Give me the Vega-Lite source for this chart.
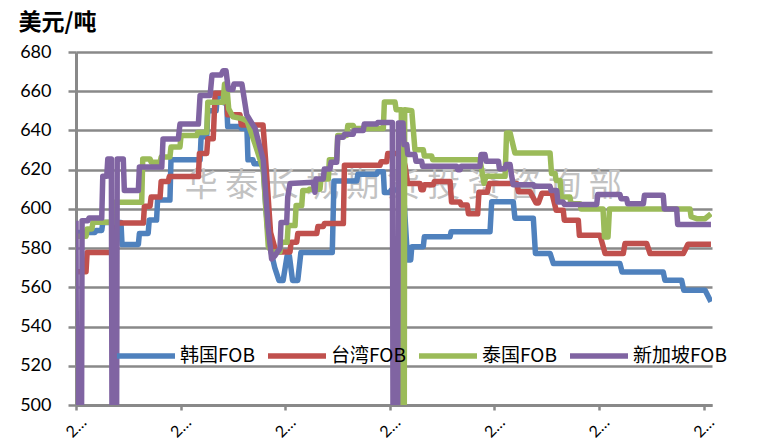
{
"$schema": "https://vega.github.io/schema/vega-lite/v6.json",
"width": 636, "height": 353,
"autosize": {"type": "none"},
"padding": {"left": 76, "top": 52, "right": 51, "bottom": 39},
"background": "white",
"config": {"view": {"stroke": null}, "font": "Lato"},
"layer": [
{
"data": {"values": [{}]},
"mark": {"type": "text", "align": "left", "baseline": "middle", "font": "Noto Sans CJK SC", "fontSize": 33, "color": "#c2c2c2", "text": "华 泰 长 城 期 货 投 资 咨 询 部"},
"encoding": {"x": {"datum": 52.0, "type": "quantitative"}, "y": {"datum": 611.7, "type": "quantitative"}}
},
{
"data": {"values": [
{"s":"韩国FOB","x":0,"y":588},{"s":"韩国FOB","x":9.1,"y":588},{"s":"韩国FOB","x":9.6,"y":589},{"s":"韩国FOB","x":12.3,"y":589},{"s":"韩国FOB","x":12.8,"y":593},{"s":"韩国FOB","x":21.5,"y":593},{"s":"韩国FOB","x":22,"y":581.8},{"s":"韩国FOB","x":29.8,"y":581.8},{"s":"韩国FOB","x":30.3,"y":587.5},{"s":"韩国FOB","x":34.5,"y":587.5},{"s":"韩国FOB","x":35,"y":594.3},{"s":"韩国FOB","x":38.5,"y":594.3},{"s":"韩国FOB","x":39,"y":604.5},{"s":"韩国FOB","x":44.9,"y":604.5},{"s":"韩国FOB","x":45.4,"y":625},{"s":"韩国FOB","x":59.3,"y":625},{"s":"韩国FOB","x":59.8,"y":636.8},{"s":"韩国FOB","x":62.5,"y":636.8},{"s":"韩国FOB","x":63,"y":650},{"s":"韩国FOB","x":67,"y":650},{"s":"韩国FOB","x":67.5,"y":657.2},{"s":"韩国FOB","x":70.4,"y":657.2},{"s":"韩国FOB","x":70.9,"y":654},{"s":"韩国FOB","x":72,"y":654},{"s":"韩国FOB","x":72.5,"y":642},{"s":"韩国FOB","x":78.4,"y":642},{"s":"韩国FOB","x":79,"y":641},{"s":"韩国FOB","x":81.7,"y":641},{"s":"韩国FOB","x":82.2,"y":625},{"s":"韩国FOB","x":84.6,"y":625},{"s":"韩国FOB","x":85.1,"y":623},{"s":"韩国FOB","x":89.4,"y":623},{"s":"韩国FOB","x":90.8,"y":600},{"s":"韩国FOB","x":92,"y":585},{"s":"韩国FOB","x":93.5,"y":577},{"s":"韩国FOB","x":95,"y":570},{"s":"韩国FOB","x":97,"y":563.5},{"s":"韩国FOB","x":99,"y":563.5},{"s":"韩国FOB","x":100.9,"y":576},{"s":"韩国FOB","x":102,"y":576},{"s":"韩国FOB","x":103.5,"y":563.5},{"s":"韩国FOB","x":106,"y":563.5},{"s":"韩国FOB","x":107.5,"y":577.8},{"s":"韩国FOB","x":122.5,"y":577.8},{"s":"韩国FOB","x":123.3,"y":614.2},{"s":"韩国FOB","x":134.2,"y":614.2},{"s":"韩国FOB","x":134.7,"y":617.6},{"s":"韩国FOB","x":143.7,"y":617.6},{"s":"韩国FOB","x":144.2,"y":619},{"s":"韩国FOB","x":146.9,"y":619},{"s":"韩国FOB","x":147.4,"y":608.4},{"s":"韩国FOB","x":150.1,"y":608.4},{"s":"韩国FOB","x":150.6,"y":609.6},{"s":"韩国FOB","x":156.5,"y":609.6},{"s":"韩国FOB","x":158.5,"y":574},{"s":"韩国FOB","x":160,"y":574},{"s":"韩国FOB","x":160.5,"y":580.7},{"s":"韩国FOB","x":166,"y":580.7},{"s":"韩国FOB","x":166.5,"y":585.8},{"s":"韩国FOB","x":178.8,"y":585.8},{"s":"韩国FOB","x":179.3,"y":588.4},{"s":"韩国FOB","x":197.9,"y":588.4},{"s":"韩国FOB","x":198.7,"y":603.7},{"s":"韩国FOB","x":209,"y":603.7},{"s":"韩国FOB","x":209.8,"y":595.2},{"s":"韩国FOB","x":218.6,"y":595.2},{"s":"韩国FOB","x":219.6,"y":577.3},{"s":"韩国FOB","x":226.6,"y":577.3},{"s":"韩国FOB","x":228.2,"y":572.1},{"s":"韩国FOB","x":260,"y":572.1},{"s":"韩国FOB","x":261,"y":567.8},{"s":"韩国FOB","x":280.7,"y":567.8},{"s":"韩国FOB","x":281.5,"y":563.6},{"s":"韩国FOB","x":289.5,"y":563.6},{"s":"韩国FOB","x":290.5,"y":558.5},{"s":"韩国FOB","x":300.7,"y":558.5},{"s":"韩国FOB","x":303.5,"y":552.6},

{"s":"台湾FOB","x":0,"y":568},{"s":"台湾FOB","x":4.8,"y":568},{"s":"台湾FOB","x":5.3,"y":577.7},{"s":"台湾FOB","x":18,"y":577.7},{"s":"台湾FOB","x":18.5,"y":592.8},{"s":"台湾FOB","x":32.2,"y":592.8},{"s":"台湾FOB","x":32.7,"y":601.4},{"s":"台湾FOB","x":35.4,"y":601.4},{"s":"台湾FOB","x":35.9,"y":606},{"s":"台湾FOB","x":40.2,"y":606},{"s":"台湾FOB","x":40.7,"y":614},{"s":"台湾FOB","x":44.1,"y":614},{"s":"台湾FOB","x":44.6,"y":616.5},{"s":"台湾FOB","x":58.5,"y":616.5},{"s":"台湾FOB","x":59,"y":628.3},{"s":"台湾FOB","x":62.5,"y":628.3},{"s":"台湾FOB","x":63,"y":635.8},{"s":"台湾FOB","x":65.6,"y":635.8},{"s":"台湾FOB","x":66.5,"y":659},{"s":"台湾FOB","x":72,"y":659},{"s":"台湾FOB","x":72.5,"y":648},{"s":"台湾FOB","x":78.4,"y":648},{"s":"台湾FOB","x":79,"y":642.8},{"s":"台湾FOB","x":89.4,"y":642.8},{"s":"台湾FOB","x":90.8,"y":622.4},{"s":"台湾FOB","x":93,"y":588},{"s":"台湾FOB","x":94.3,"y":583},{"s":"台湾FOB","x":95.6,"y":578},{"s":"台湾FOB","x":102.3,"y":578},{"s":"台湾FOB","x":102.8,"y":583},{"s":"台湾FOB","x":105.5,"y":583},{"s":"台湾FOB","x":106,"y":587.4},{"s":"台湾FOB","x":115.1,"y":587.4},{"s":"台湾FOB","x":115.6,"y":591},{"s":"台湾FOB","x":118.2,"y":591},{"s":"台湾FOB","x":118.7,"y":592.5},{"s":"台湾FOB","x":127.8,"y":592.5},{"s":"台湾FOB","x":128.3,"y":622.2},{"s":"台湾FOB","x":145.3,"y":622.2},{"s":"台湾FOB","x":145.8,"y":624},{"s":"台湾FOB","x":148.5,"y":624},{"s":"台湾FOB","x":149,"y":628.2},{"s":"台湾FOB","x":155.7,"y":628.2},{"s":"台湾FOB","x":157.3,"y":622},{"s":"台湾FOB","x":158.5,"y":613},{"s":"台湾FOB","x":164.4,"y":613},{"s":"台湾FOB","x":164.9,"y":609.8},{"s":"台湾FOB","x":166,"y":609.8},{"s":"台湾FOB","x":166.5,"y":612.3},{"s":"台湾FOB","x":170.8,"y":612.3},{"s":"台湾FOB","x":171.3,"y":614},{"s":"台湾FOB","x":178.8,"y":614},{"s":"台湾FOB","x":179.5,"y":603.5},{"s":"台湾FOB","x":183.6,"y":603.5},{"s":"台湾FOB","x":184.1,"y":602},{"s":"台湾FOB","x":187,"y":602},{"s":"台湾FOB","x":187.6,"y":597.5},{"s":"台湾FOB","x":192,"y":597.5},{"s":"台湾FOB","x":192.6,"y":608.5},{"s":"台湾FOB","x":196.6,"y":608.5},{"s":"台湾FOB","x":197.5,"y":613},{"s":"台湾FOB","x":210.7,"y":613},{"s":"台湾FOB","x":211.5,"y":608.8},{"s":"台湾FOB","x":217,"y":608.8},{"s":"台湾FOB","x":219.9,"y":603},{"s":"台湾FOB","x":221,"y":603},{"s":"台湾FOB","x":222.7,"y":608},{"s":"台湾FOB","x":227.5,"y":608},{"s":"台湾FOB","x":229.5,"y":599.3},{"s":"台湾FOB","x":232.9,"y":599.3},{"s":"台湾FOB","x":233.4,"y":594.2},{"s":"台湾FOB","x":240.1,"y":594.2},{"s":"台湾FOB","x":240.6,"y":586.5},{"s":"台湾FOB","x":250.5,"y":586.5},{"s":"台湾FOB","x":252.9,"y":577.2},{"s":"台湾FOB","x":261.6,"y":577.2},{"s":"台湾FOB","x":262.4,"y":582.3},{"s":"台湾FOB","x":272.8,"y":582.3},{"s":"台湾FOB","x":274.4,"y":577.2},{"s":"台湾FOB","x":290.3,"y":577.2},{"s":"台湾FOB","x":292.5,"y":582},{"s":"台湾FOB","x":303.5,"y":582},

{"s":"泰国FOB","x":0,"y":586},{"s":"泰国FOB","x":4.8,"y":586},{"s":"泰国FOB","x":5.3,"y":589.8},{"s":"泰国FOB","x":7.6,"y":589.8},{"s":"泰国FOB","x":8.1,"y":593.2},{"s":"泰国FOB","x":18,"y":593.2},{"s":"泰国FOB","x":18.5,"y":603.4},{"s":"泰国FOB","x":31.4,"y":603.4},{"s":"泰国FOB","x":31.9,"y":625.5},{"s":"泰国FOB","x":35.4,"y":625.5},{"s":"泰国FOB","x":35.9,"y":623.8},{"s":"泰国FOB","x":40.2,"y":623.8},{"s":"泰国FOB","x":40.7,"y":626.5},{"s":"泰国FOB","x":44.9,"y":626.5},{"s":"泰国FOB","x":45.4,"y":631.5},{"s":"泰国FOB","x":49.7,"y":631.5},{"s":"泰国FOB","x":50.2,"y":637.4},{"s":"泰国FOB","x":57.7,"y":637.4},{"s":"泰国FOB","x":58.2,"y":639},{"s":"泰国FOB","x":62.5,"y":639},{"s":"泰国FOB","x":63,"y":654.4},{"s":"泰国FOB","x":70.3,"y":654.4},{"s":"泰国FOB","x":71,"y":663.7},{"s":"泰国FOB","x":72,"y":663.7},{"s":"泰国FOB","x":73,"y":651},{"s":"泰国FOB","x":75,"y":647},{"s":"泰国FOB","x":79.3,"y":646},{"s":"泰国FOB","x":81.7,"y":645},{"s":"泰国FOB","x":85.6,"y":633},{"s":"泰国FOB","x":89.5,"y":620},{"s":"泰国FOB","x":91.9,"y":581},{"s":"泰国FOB","x":93.5,"y":578},{"s":"泰国FOB","x":97.5,"y":578},{"s":"泰国FOB","x":98,"y":583},{"s":"泰国FOB","x":100.9,"y":583},{"s":"泰国FOB","x":101.4,"y":591.5},{"s":"泰国FOB","x":104.7,"y":591.5},{"s":"泰国FOB","x":105.2,"y":601.7},{"s":"泰国FOB","x":107.9,"y":601.7},{"s":"泰国FOB","x":108.4,"y":609.4},{"s":"泰国FOB","x":111,"y":609.4},{"s":"泰国FOB","x":111.5,"y":610},{"s":"泰国FOB","x":116.6,"y":610},{"s":"泰国FOB","x":117.1,"y":615.3},{"s":"泰国FOB","x":120.6,"y":615.3},{"s":"泰国FOB","x":121.1,"y":625},{"s":"泰国FOB","x":124.6,"y":625},{"s":"泰国FOB","x":125.1,"y":637.4},{"s":"泰国FOB","x":129.4,"y":637.4},{"s":"泰国FOB","x":129.9,"y":642.5},{"s":"泰国FOB","x":132.5,"y":642.5},{"s":"泰国FOB","x":133,"y":641},{"s":"泰国FOB","x":146.9,"y":641},{"s":"泰国FOB","x":147.4,"y":654.5},{"s":"泰国FOB","x":152.5,"y":654.5},{"s":"泰国FOB","x":153,"y":650.6},{"s":"泰国FOB","x":155.5,"y":650.6},{"s":"泰国FOB","x":156.3,"y":0},{"s":"泰国FOB","x":157.1,"y":650.6},{"s":"泰国FOB","x":160.5,"y":650},{"s":"泰国FOB","x":162,"y":630.2},{"s":"泰国FOB","x":166,"y":630.2},{"s":"泰国FOB","x":166.5,"y":627},{"s":"泰国FOB","x":170,"y":627},{"s":"泰国FOB","x":170.5,"y":625.1},{"s":"泰国FOB","x":193.1,"y":625.1},{"s":"泰国FOB","x":195,"y":613},{"s":"泰国FOB","x":196,"y":616.6},{"s":"泰国FOB","x":205.1,"y":616.6},{"s":"泰国FOB","x":205.8,"y":638.7},{"s":"泰国FOB","x":207.5,"y":638.7},{"s":"泰国FOB","x":209.8,"y":628.5},{"s":"泰国FOB","x":226.6,"y":628.5},{"s":"泰国FOB","x":227.3,"y":618},{"s":"泰国FOB","x":229,"y":618},{"s":"泰国FOB","x":229.5,"y":614.5},{"s":"泰国FOB","x":231.4,"y":614.5},{"s":"泰国FOB","x":231.9,"y":606},{"s":"泰国FOB","x":236.1,"y":606},{"s":"泰国FOB","x":236.6,"y":602.6},{"s":"泰国FOB","x":240.9,"y":602.6},{"s":"泰国FOB","x":241.4,"y":600},{"s":"泰国FOB","x":251.9,"y":600},{"s":"泰国FOB","x":252.6,"y":585.7},{"s":"泰国FOB","x":254.3,"y":585.7},{"s":"泰国FOB","x":255,"y":600},{"s":"泰国FOB","x":293.5,"y":600},{"s":"泰国FOB","x":294,"y":596},{"s":"泰国FOB","x":296.7,"y":595},{"s":"泰国FOB","x":300.7,"y":595},{"s":"泰国FOB","x":303.5,"y":597.5},

{"s":"新加坡FOB","x":0,"y":594},{"s":"新加坡FOB","x":1.4,"y":0},{"s":"新加坡FOB","x":2.9,"y":594},{"s":"新加坡FOB","x":5.7,"y":594},{"s":"新加坡FOB","x":6.2,"y":595.3},{"s":"新加坡FOB","x":12.3,"y":595.3},{"s":"新加坡FOB","x":12.8,"y":616.7},{"s":"新加坡FOB","x":14.7,"y":616.7},{"s":"新加坡FOB","x":15.2,"y":625.5},{"s":"新加坡FOB","x":16.9,"y":625.5},{"s":"新加坡FOB","x":18.3,"y":0},{"s":"新加坡FOB","x":19.7,"y":625.5},{"s":"新加坡FOB","x":22.6,"y":625.5},{"s":"新加坡FOB","x":23.1,"y":609.4},{"s":"新加坡FOB","x":29.8,"y":609.4},{"s":"新加坡FOB","x":30.3,"y":621.3},{"s":"新加坡FOB","x":41,"y":621.3},{"s":"新加坡FOB","x":41.6,"y":635.7},{"s":"新加坡FOB","x":48.9,"y":635.7},{"s":"新加坡FOB","x":49.7,"y":643.3},{"s":"新加坡FOB","x":58.5,"y":643.3},{"s":"新加坡FOB","x":59.3,"y":657.8},{"s":"新加坡FOB","x":64.1,"y":657.8},{"s":"新加坡FOB","x":65,"y":668.3},{"s":"新加坡FOB","x":69.3,"y":668.3},{"s":"新加坡FOB","x":70.3,"y":670.5},{"s":"新加坡FOB","x":71.7,"y":670.5},{"s":"新加坡FOB","x":72.8,"y":661},{"s":"新加坡FOB","x":75,"y":661},{"s":"新加坡FOB","x":75.5,"y":663.7},{"s":"新加坡FOB","x":79.3,"y":663.7},{"s":"新加坡FOB","x":81.6,"y":648},{"s":"新加坡FOB","x":85.6,"y":641},{"s":"新加坡FOB","x":89.5,"y":625},{"s":"新加坡FOB","x":91.9,"y":590},{"s":"新加坡FOB","x":93.5,"y":574.5},{"s":"新加坡FOB","x":95,"y":576},{"s":"新加坡FOB","x":97.5,"y":580},{"s":"新加坡FOB","x":98,"y":593},{"s":"新加坡FOB","x":100.7,"y":593},{"s":"新加坡FOB","x":101.2,"y":606},{"s":"新加坡FOB","x":102.3,"y":613},{"s":"新加坡FOB","x":113.4,"y":613.6},{"s":"新加坡FOB","x":114.2,"y":608.5},{"s":"新加坡FOB","x":114.7,"y":615.3},{"s":"新加坡FOB","x":118.2,"y":615.3},{"s":"新加坡FOB","x":118.7,"y":620.4},{"s":"新加坡FOB","x":121.4,"y":620.4},{"s":"新加坡FOB","x":121.9,"y":623.8},{"s":"新加坡FOB","x":124.6,"y":623.8},{"s":"新加坡FOB","x":125.1,"y":636.5},{"s":"新加坡FOB","x":127.8,"y":636.5},{"s":"新加坡FOB","x":128.3,"y":638},{"s":"新加坡FOB","x":132.5,"y":638},{"s":"新加坡FOB","x":133,"y":640},{"s":"新加坡FOB","x":137.3,"y":640},{"s":"新加坡FOB","x":137.8,"y":643.3},{"s":"新加坡FOB","x":143.7,"y":643.3},{"s":"新加坡FOB","x":144.2,"y":644},{"s":"新加坡FOB","x":151.2,"y":644},{"s":"新加坡FOB","x":152.6,"y":0},{"s":"新加坡FOB","x":154.1,"y":643.8},{"s":"新加坡FOB","x":156.3,"y":643.8},{"s":"新加坡FOB","x":156.8,"y":632.8},{"s":"新加坡FOB","x":158.1,"y":632.8},{"s":"新加坡FOB","x":158.6,"y":627.7},{"s":"新加坡FOB","x":162,"y":627.7},{"s":"新加坡FOB","x":162.5,"y":624.3},{"s":"新加坡FOB","x":165.2,"y":624.3},{"s":"新加坡FOB","x":165.7,"y":621.7},{"s":"新加坡FOB","x":182,"y":621.7},{"s":"新加坡FOB","x":182.5,"y":620},{"s":"新加坡FOB","x":183.6,"y":620},{"s":"新加坡FOB","x":184.1,"y":621.7},{"s":"新加坡FOB","x":193.1,"y":621.7},{"s":"新加坡FOB","x":193.6,"y":627.7},{"s":"新加坡FOB","x":195.5,"y":627.7},{"s":"新加坡FOB","x":196,"y":624.3},{"s":"新加坡FOB","x":201.9,"y":624.3},{"s":"新加坡FOB","x":202.4,"y":620.5},{"s":"新加坡FOB","x":205.1,"y":620.5},{"s":"新加坡FOB","x":205.6,"y":622.6},{"s":"新加坡FOB","x":207.5,"y":622.6},{"s":"新加坡FOB","x":208.2,"y":617},{"s":"新加坡FOB","x":209,"y":612.3},{"s":"新加坡FOB","x":218.6,"y":612.3},{"s":"新加坡FOB","x":219.1,"y":611.5},{"s":"新加坡FOB","x":226.6,"y":611.5},{"s":"新加坡FOB","x":227.1,"y":609.4},{"s":"新加坡FOB","x":229.8,"y":609.4},{"s":"新加坡FOB","x":230.3,"y":603.5},{"s":"新加坡FOB","x":232.9,"y":603.5},{"s":"新加坡FOB","x":233.4,"y":602.3},{"s":"新加坡FOB","x":248.9,"y":602.3},{"s":"新加坡FOB","x":249.4,"y":607.4},{"s":"新加坡FOB","x":260,"y":607.4},{"s":"新加坡FOB","x":260.5,"y":605.2},{"s":"新加坡FOB","x":263.2,"y":605.2},{"s":"新加坡FOB","x":263.7,"y":602.6},{"s":"新加坡FOB","x":271.2,"y":602.6},{"s":"新加坡FOB","x":271.7,"y":606.9},{"s":"新加坡FOB","x":280.7,"y":606.9},{"s":"新加坡FOB","x":281.2,"y":600},{"s":"新加坡FOB","x":287.1,"y":600},{"s":"新加坡FOB","x":287.6,"y":592.1},{"s":"新加坡FOB","x":303.5,"y":592.1}
]},
"mark": {"type": "line", "strokeWidth": 5.5, "clip": true, "strokeJoin": "round"},
"encoding": {
"x": {"field": "x", "type": "quantitative", "scale": {"domain": [0, 304], "nice": false, "zero": false},
 "axis": {"values": [0, 50, 100, 150, 200, 250, 300], "tickCount": 20, "labelExpr": "'2…'", "labelAngle": -45, "labelAlign": "center", "labelBaseline": "middle", "labelPadding": 17, "labelFontSize": 16, "labelColor": "black", "labelOverlap": false, "grid": false, "title": null, "domainColor": "#898989", "domainWidth": 3, "tickColor": "#898989", "tickWidth": 2.5, "tickSize": 5}},
"y": {"field": "y", "type": "quantitative", "scale": {"domain": [500, 680], "nice": false, "zero": false},
 "axis": {"values": [500, 520, 540, 560, 580, 600, 620, 640, 660, 680], "tickCount": 20, "labelOverlap": false, "grid": true, "gridColor": "#898989", "gridWidth": 2.5, "domainColor": "#898989", "domainWidth": 3, "tickColor": "#898989", "tickWidth": 2.5, "tickSize": 8, "labelPadding": 17, "labelFontSize": 18, "labelColor": "black", "title": "美元/吨", "titleAngle": 0, "titleAlign": "left", "titleBaseline": "middle", "titleX": -58, "titleY": -30, "titleFont": "Noto Sans CJK SC", "titleFontSize": 23, "titleFontWeight": "bold", "titleColor": "black"}},
"color": {"field": "s", "type": "nominal",
 "scale": {"domain": ["韩国FOB", "台湾FOB", "泰国FOB", "新加坡FOB"], "range": ["#4F81BD", "#C0504D", "#9BBB59", "#8064A2"]},
 "legend": {"orient": "none", "legendX": 38, "legendY": 272, "direction": "horizontal", "title": null, "symbolType": "stroke", "symbolSize": 3364, "symbolStrokeWidth": 5.5, "labelFont": "Noto Sans CJK SC", "labelFontSize": 19, "labelColor": "black", "labelOffset": 2, "columnPadding": 2, "gridAlign": "none", "padding": 0, "labelLimit": 200}}
}
}
]
}
